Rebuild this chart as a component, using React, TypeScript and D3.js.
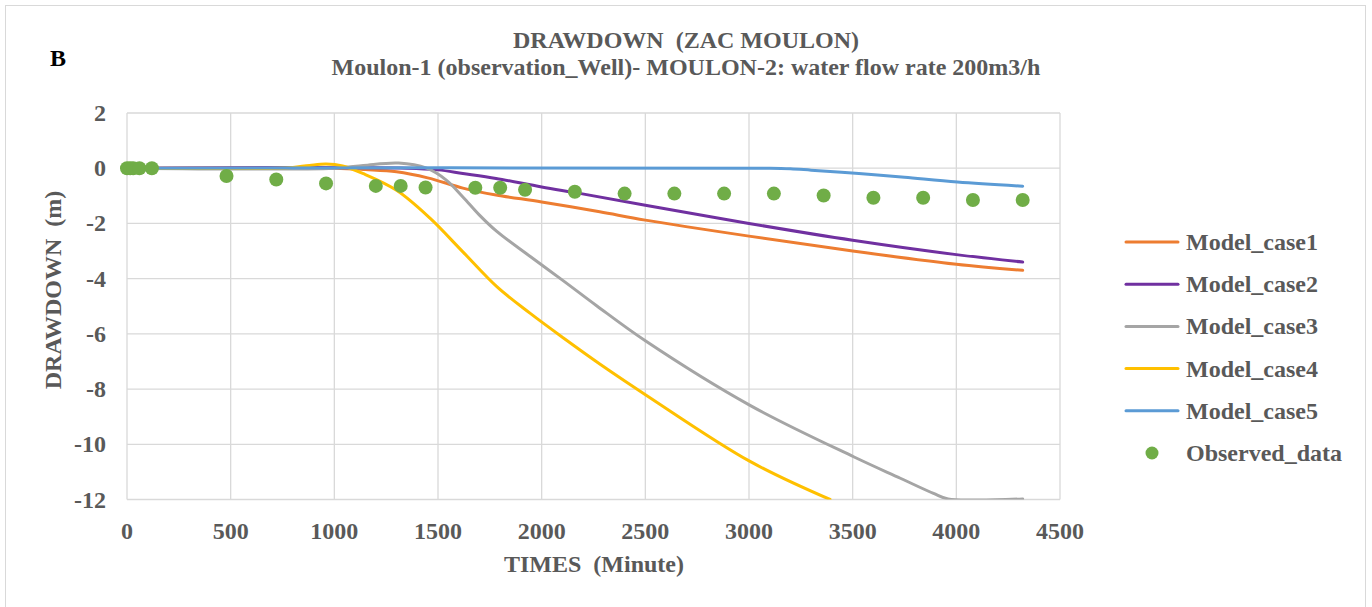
import * as d3 from "d3";
import * as React from "react";

// observed drawdown (time in minutes, drawdown in m)
const obsTimes = [0, 15, 30, 60, 120, 480, 720, 960, 1200, 1320, 1440, 1680, 1800, 1920, 2160, 2400, 2640, 2880, 3120, 3360, 3600, 3840, 4080, 4320];
const obsValues = [0, 0, 0, 0, 0, -0.28, -0.41, -0.55, -0.64, -0.64, -0.7, -0.71, -0.71, -0.78, -0.85, -0.92, -0.92, -0.92, -0.92, -0.99, -1.07, -1.07, -1.15, -1.15];

// model runs: [time, drawdown]
const case1: [number, number][] = [[0, 0], [1000, 0], [1150, -0.05], [1300, -0.13], [1450, -0.35], [1620, -0.72], [1780, -0.97], [2000, -1.22], [2280, -1.58], [2500, -1.88], [3000, -2.46], [3500, -3.0], [4000, -3.48], [4320, -3.7]];
const case2: [number, number][] = [[0, 0], [1350, 0], [1500, -0.06], [1620, -0.19], [1780, -0.37], [2000, -0.68], [2190, -0.92], [2500, -1.34], [3000, -2.0], [3500, -2.61], [4000, -3.13], [4320, -3.4]];
const case3: [number, number][] = [[0, 0], [1000, 0], [1140, 0.1], [1310, 0.19], [1445, 0], [1540, -0.43], [1620, -1.04], [1700, -1.7], [1785, -2.3], [1945, -3.2], [2105, -4.08], [2265, -4.98], [2500, -6.25], [3005, -8.59], [3507, -10.46], [3730, -11.23], [3890, -11.78], [3960, -11.98], [4100, -12.02], [4320, -11.98]];
const case4: [number, number][] = [[0, 0], [720, 0], [800, 0.03], [880, 0.1], [960, 0.15], [1040, 0.08], [1140, -0.2], [1300, -0.8], [1460, -1.8], [1620, -3.03], [1785, -4.3], [1945, -5.26], [2105, -6.15], [2282, -7.1], [2504, -8.22], [3005, -10.62], [3391, -12]];
const case5: [number, number][] = [[0, 0], [3100, 0], [3200, -0.02], [3300, -0.07], [3530, -0.19], [3750, -0.33], [4005, -0.5], [4320, -0.65]];

const seriesNames = ["Model_case1", "Model_case2", "Model_case3", "Model_case4", "Model_case5"];
const seriesData = [case1, case2, case3, case4, case5];
const seriesColors = ["#ED7D31", "#7030A0", "#A5A5A5", "#FFC000", "#5B9BD5"];
const obsName = "Observed_data";
const obsColor = "#70AD47";

const xTicks = [0, 500, 1000, 1500, 2000, 2500, 3000, 3500, 4000, 4500];
const yTicks = [2, 0, -2, -4, -6, -8, -10, -12];

const W = 1372;
const H = 607;
const font = "'Liberation Serif', 'Times New Roman', serif";
const textColor = "#595959";
const fs = 24;

export default function App() {
  const x = d3.scaleLinear().domain([0, 4500]).range([127, 1060]);
  const y = d3.scaleLinear().domain([-12, 2]).range([499.5, 113]);

  const line = d3
    .line<[number, number]>()
    .x((d) => x(d[0]))
    .y((d) => y(d[1]))
    .curve(d3.curveCatmullRom.alpha(0.5));

  const legendY = (i: number) => 242 + i * 42.2;

  return (
    <div style={{ position: "fixed", left: 0, top: 0 }}>
      <svg width={W} height={H} style={{ display: "block", background: "#fff" }}>
        <defs>
          <clipPath id="plot">
            <rect x={x(0)} y={y(2) - 2} width={x(4500) - x(0)} height={y(-12) - y(2) + 2} />
          </clipPath>
        </defs>
        <rect x={5.5} y={5.5} width={1360} height={610} fill="#fff" stroke="#d9d9d9" strokeWidth={1} />

        {/* grid */}
        <g stroke="#d9d9d9" strokeWidth={1.3}>
          {yTicks.map((t) => (
            <line key={"gy" + t} x1={x(0)} x2={x(4500)} y1={y(t)} y2={y(t)} />
          ))}
          {xTicks.map((t) => (
            <line key={"gx" + t} x1={x(t)} x2={x(t)} y1={y(2)} y2={y(-12)} />
          ))}
        </g>

        {/* tick labels */}
        <g fontFamily={font} fontWeight="bold" fontSize={fs} fill={textColor}>
          {yTicks.map((t) => (
            <text key={"ty" + t} x={106} y={y(t) + 8} textAnchor="end">
              {t}
            </text>
          ))}
          {xTicks.map((t) => (
            <text key={"tx" + t} x={x(t)} y={539} textAnchor="middle">
              {t}
            </text>
          ))}
        </g>

        {/* model lines */}
        <g clipPath="url(#plot)" fill="none" strokeWidth={3} strokeLinecap="round" strokeLinejoin="round">
          {seriesData.map((s, i) => (
            <path key={seriesNames[i]} d={line(s) || ""} stroke={seriesColors[i]} />
          ))}
        </g>

        {/* observed */}
        <g fill={obsColor}>
          {obsTimes.map((t, i) => (
            <circle key={"o" + i} cx={x(t)} cy={y(obsValues[i])} r={7} />
          ))}
        </g>

        {/* titles */}
        <g fontFamily={font} fontWeight="bold" fill={textColor} textAnchor="middle" fontSize={fs}>
          <text x={686} y={48} xmlSpace="preserve">{"DRAWDOWN  (ZAC MOULON)"}</text>
          <text x={686} y={75}>Moulon-1 (observation_Well)- MOULON-2: water flow rate 200m3/h</text>
          <text x={594} y={572} xmlSpace="preserve">{"TIMES  (Minute)"}</text>
          <text transform="translate(61,290) rotate(-90)" xmlSpace="preserve">{"DRAWDOWN  (m)"}</text>
        </g>
        <text x={50} y={66} fontFamily={font} fontWeight="bold" fontSize={fs} fill="#000">
          B
        </text>

        {/* legend */}
        <g fontFamily={font} fontWeight="bold" fontSize={fs} fill={textColor}>
          {seriesNames.map((n, i) => (
            <g key={n}>
              <line x1={1126} x2={1178} y1={legendY(i)} y2={legendY(i)} stroke={seriesColors[i]} strokeWidth={3} strokeLinecap="round" />
              <text x={1186} y={legendY(i) + 8}>{n}</text>
            </g>
          ))}
          <circle cx={1152} cy={legendY(5)} r={6.5} fill={obsColor} />
          <text x={1186} y={legendY(5) + 8}>{obsName}</text>
        </g>
      </svg>
    </div>
  );
}
